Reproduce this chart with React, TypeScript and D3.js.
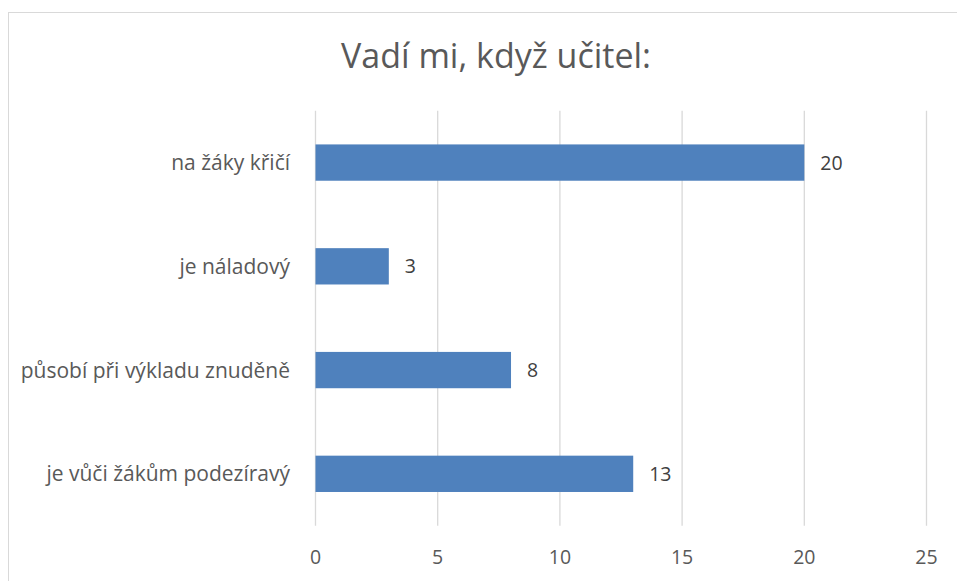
import React from "react";
import * as d3 from "d3";

const categories = ["na žáky křičí", "je náladový", "působí při výkladu znuděně", "je vůči žákům podezíravý"];
const values = [20, 3, 8, 13];
const ticks = [0, 5, 10, 15, 20, 25];
const title = "Vadí mi, když učitel:";

export default function App() {
  const W = 957, H = 581;
  const x = d3.scaleLinear().domain([0, 25]).range([315.5, 926.5]);
  const y = d3.scaleBand().domain(categories).range([110.7, 525.7]).paddingInner(0.65).paddingOuter(0.325);
  const font = "'Open Sans', sans-serif";
  const txt = "#595959";
  return (
    <svg width={W} height={H} style={{ position: "absolute", left: 0, top: 0 }} fontFamily={font}>
      <rect x={0} y={0} width={W} height={H} fill="#fff" />
      <rect x={8.5} y={12.5} width={W + 20} height={H + 20} fill="none" stroke="#d9d9d9" strokeWidth={1} />
      <text x={496} y={68} textAnchor="middle" fontSize={34} fill={txt}>{title}</text>
      {ticks.map(t => (
        <g key={t}>
          <line x1={x(t)} x2={x(t)} y1={110.7} y2={525.7} stroke="#d9d9d9" strokeWidth={1.3} />
          <text x={x(t)} y={564} textAnchor="middle" fontSize={19.5} fill={txt}>{t}</text>
        </g>
      ))}
      {categories.map((c, i) => {
        const yy = y(c)!;
        const bw = y.bandwidth();
        return (
          <g key={c}>
            <rect x={x(0)} y={yy} width={x(values[i]) - x(0)} height={bw} fill="#4f81bd" />
            <text x={290} y={yy + bw / 2 + 7.5} textAnchor="end" fontSize={21} fill={txt}>{c}</text>
            <text x={x(values[i]) + 16} y={yy + bw / 2 + 7} textAnchor="start" fontSize={19.5} fill="#404040">{values[i]}</text>
          </g>
        );
      })}
    </svg>
  );
}
